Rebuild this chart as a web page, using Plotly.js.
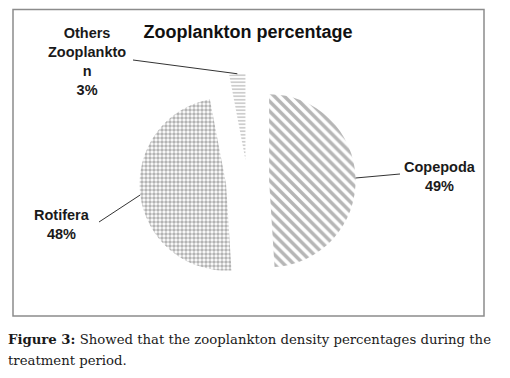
<!DOCTYPE html>
<html><head><meta charset="utf-8">
<script src="https://cdn.plot.ly/plotly-3.0.1.min.js"></script>
<style>html,body{margin:0;padding:0;background:#fff}#chart{width:510px;height:378px}</style>
</head><body><div id="chart"></div>
<script>
// ---- data ----
const categories = ["Copepoda", "Rotifera", "Others Zooplankton"];
const percents = [49, 48, 3];
const labelTexts = ["Copepoda<br>49%", "Rotifera<br>48%", "Others<br>Zooplankto<br>n<br>3%"];
const titleText = "Zooplankton percentage";
const captionLine1 = "<b>Figure 3:</b> Showed that the zooplankton density percentages during the";
const captionLine2 = "treatment period.";

// ---- layout helpers ----
const W = 510, H = 378;
const px = x => x / W;
const py = y => 1 - y / H;
const pulls = [0.25, 0.25, 0.25];
const domX = [0.2733, 0.6973], domY = [0.2341, 0.8061];
const maxPull = Math.max(...pulls);
const boxW = W * (domX[1] - domX[0]), boxH = H * (domY[1] - domY[0]);
const R = Math.min(boxW, boxH) / (2 + 2 * maxPull);
const CX = W * (domX[0] + domX[1]) / 2;
const CY = H * (1 - domY[0]) - boxH / 2;

// leader-line start: outer arc at mid-angle of each pulled slice
const total = percents.reduce((a, b) => a + b, 0);
let cum = 0;
const arcPts = percents.map((v, i) => {
  const mid = (cum + v / 2) / total * 2 * Math.PI; cum += v;
  const d = (1 + pulls[i]) * R;
  return [CX + d * Math.sin(mid), CY - d * Math.cos(mid)];
});
const lineEnds = [[400, 174], [99, 222], [133, 60]];
const labelPos = [[440, 176.5], [62, 224], [87, 61.5]];

const lineShapes = arcPts.map((p, i) => ({
  type: "line", xref: "paper", yref: "paper",
  x0: px(p[0]), y0: py(p[1]), x1: px(lineEnds[i][0]), y1: py(lineEnds[i][1]),
  line: {color: "#333", width: 1}
}));

const labelAnn = labelTexts.map((t, i) => ({
  text: t, xref: "paper", yref: "paper", x: px(labelPos[i][0]), y: py(labelPos[i][1]),
  xanchor: "center", yanchor: "middle", showarrow: false, align: "center",
  font: {family: "Liberation Sans, Arial, sans-serif", size: 14.5, color: "#1a1a1a", weight: "bold"}
}));

const trace = {
  type: "pie",
  labels: categories,
  values: percents,
  sort: false,
  direction: "clockwise",
  rotation: 0,
  pull: pulls,
  textinfo: "none",
  hoverinfo: "label+percent",
  domain: {x: domX, y: domY},
  marker: {
    colors: ["#ffffff", "#ffffff", "#ffffff"],
    line: {width: 0},
    pattern: {
      shape: ["\\", ".", "-"],
      fgcolor: ["#6e6e6e", "#6a6a6a", "#707070"],
      bgcolor: ["#ffffff", "#ffffff", "#ffffff"],
      size: [7, 4, 3.5],
      solidity: [0.5, 0.6, 0.35],
      fillmode: "overlay"
    }
  }
};

const layout = {
  width: W, height: H,
  margin: {l: 0, r: 0, t: 0, b: 0},
  paper_bgcolor: "#ffffff",
  showlegend: false,
  title: {
    text: titleText, x: px(248), y: py(32), xanchor: "center", yanchor: "middle",
    xref: "paper", yref: "paper",
    font: {family: "Liberation Sans, Arial, sans-serif", size: 18, color: "#111", weight: "bold"}
  },
  shapes: [
    {type: "rect", xref: "paper", yref: "paper", x0: px(13), y0: py(316), x1: px(484), y1: py(9.5),
     line: {color: "#8c8c8c", width: 1.5}, fillcolor: "rgba(0,0,0,0)"}
  ].concat(lineShapes),
  annotations: labelAnn.concat([
    {text: captionLine1, xref: "paper", yref: "paper", x: px(6), y: py(339), xanchor: "left", yanchor: "middle",
     showarrow: false, font: {family: "DejaVu Serif, serif", size: 13.25, color: "#1a1a1a"}},
    {text: captionLine2, xref: "paper", yref: "paper", x: px(6), y: py(360), xanchor: "left", yanchor: "middle",
     showarrow: false, font: {family: "DejaVu Serif, serif", size: 13.25, color: "#1a1a1a"}}
  ])
};

Plotly.newPlot("chart", [trace], layout, {displayModeBar: false, staticPlot: true});
</script>
</body></html>
